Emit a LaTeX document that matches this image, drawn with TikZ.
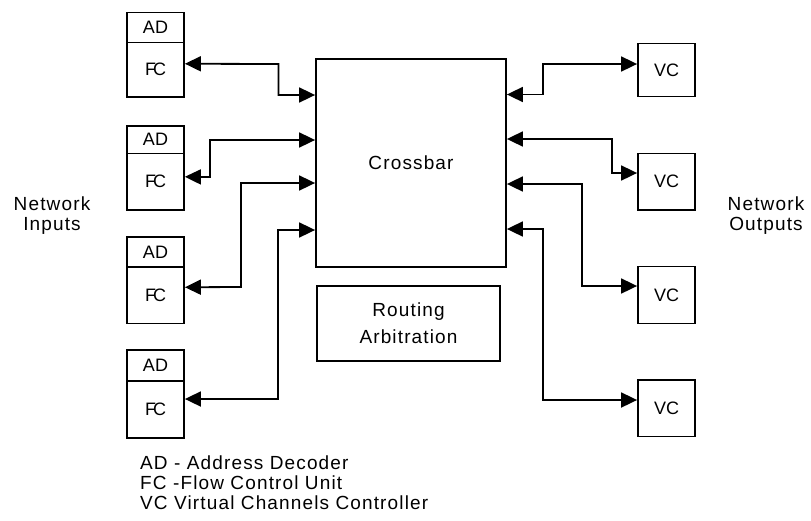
\documentclass[tikz,border=0pt]{standalone}
\usepackage{fontspec}
\setmainfont{Liberation Sans}
\newfontfamily\spacedfont[LetterSpace=6]{Liberation Sans}
\usetikzlibrary{arrows.meta}
\begin{document}
\begin{tikzpicture}[x=1pt,y=-1pt,
  box/.style={draw,line width=1.8pt,inner sep=0pt,minimum width=57pt,font=\fontsize{18}{20}\selectfont},
  txt/.style={font=\spacedfont\fontsize{19}{20}\selectfont,align=center,inner sep=0pt},
  bi/.style={line width=1.8pt,{Triangle[length=16pt,width=15pt]}-{Triangle[length=16pt,width=15pt]}}]
\useasboundingbox (0,0) rectangle (811,520);

% left blocks
\node[box,minimum height=30pt] (ad1) at (155.5,27.5) {AD};
\node[box,minimum height=54.5pt] (fc1) at (155.5,69.75) {F\kern-3pt C};
\node[box,minimum height=27.5pt] (ad2) at (155.5,139.75) {AD};
\node[box,minimum height=56.5pt] (fc2) at (155.5,181.75) {F\kern-3pt C};
\node[box,minimum height=30pt] (ad3) at (155.5,252) {AD};
\node[box,minimum height=56.5pt] (fc3) at (155.5,295.25) {F\kern-3pt C};
\node[box,minimum height=31pt] (ad4) at (155.5,365.5) {AD};
\node[box,minimum height=57pt] (fc4) at (155.5,409.5) {F\kern-3pt C};

% crossbar and routing
\node[box,txt,draw,minimum width=190pt,minimum height=208pt] (xbar) at (411,163) {Crossbar};
\node[box,txt,draw,minimum width=183pt,minimum height=75pt] (route) at (408.5,323.5) {Routing\\[7pt]Arbitration};

% right blocks
\node[box,minimum height=53pt] (vc1) at (666.5,70) {VC};
\node[box,minimum height=56.5pt] (vc2) at (666.5,181.75) {VC};
\node[box,minimum height=57pt] (vc3) at (666.5,295) {VC};
\node[box,minimum height=56.5pt] (vc4) at (666.5,408.25) {VC};

% left connectors
\draw[bi] ([yshift=6pt]fc1.east) -- (278.5,64) -- (278.5,95) -- (xbar.west |- 0,95);
\draw[bi] ([yshift=5pt]fc2.east) -- (210,177) -- (210,140) -- (xbar.west |- 0,140);
\draw[bi] ([yshift=8pt]fc3.east) -- (241,287) -- (241,183) -- (xbar.west |- 0,183);
\draw[bi] ([yshift=10.5pt]fc4.east) -- (278,399) -- (278,230) -- (xbar.west |- 0,230);

% right connectors
\draw[bi] (xbar.east |- 0,94.5) -- (543,94.5) -- (543,64) -- ([yshift=6pt]vc1.west);
\draw[bi] (xbar.east |- 0,139) -- (612,139) -- (612,173) -- ([yshift=8.75pt]vc2.west);
\draw[bi] (xbar.east |- 0,184) -- (582,184) -- (582,286) -- ([yshift=9pt]vc3.west);
\draw[bi] (xbar.east |- 0,229) -- (543,229) -- (543,400) -- ([yshift=8.25pt]vc4.west);

% side labels
\node[txt] (nin) at (52,216) {Network\\Inputs};
\node[txt] (nout) at (766,216) {Network\\Outputs};

% legend
\node[txt,anchor=base west] (lg1) at (140,469) {AD - Address Decoder};
\node[txt,anchor=base west] (lg2) at (140,489) {FC -Flow Control Unit};
\node[txt,anchor=base west] (lg3) at (140,509) {VC Virtual Channels Controller};
\end{tikzpicture}
\end{document}
